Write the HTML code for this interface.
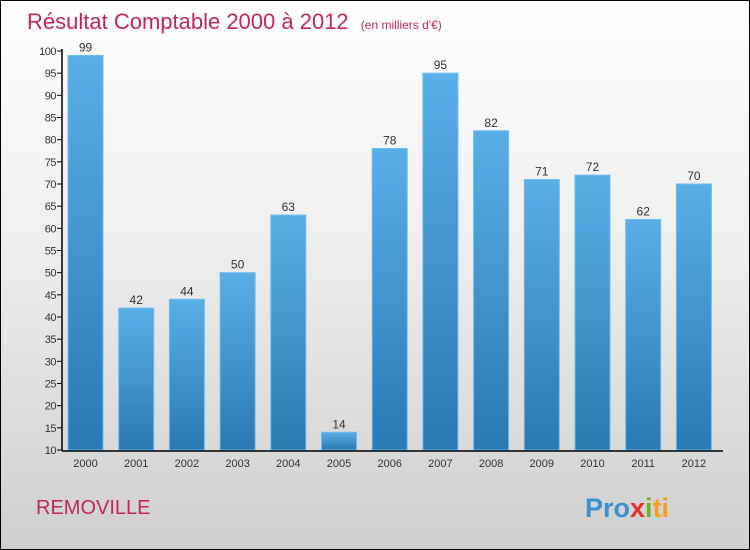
<!DOCTYPE html>
<html><head><meta charset="utf-8"><style>
body{margin:0;}
#wrap{position:relative;width:748px;height:548px;border:1px solid #000;background:linear-gradient(#fefefe,#f0f0f0 40%,#cfcfcf);font-family:"Liberation Sans",sans-serif;overflow:hidden}
</style></head><body>
<div id="wrap">
<svg id="svg" width="748" height="548" style="position:absolute;left:0;top:0">
<defs><linearGradient id="bg" x1="0" y1="0" x2="0" y2="1"><stop offset="0" stop-color="#5aaee8"/><stop offset="1" stop-color="#2a78b4"/></linearGradient></defs>
<text x="26" y="28" font-size="22" fill="#c0285a">Résultat Comptable 2000 à 2012 <tspan font-size="12" dx="6">(en milliers d'€)</tspan></text>
<text x="35" y="513" font-size="20" fill="#c0285a">REMOVILLE</text>
<text x="584" y="516" font-size="27" font-weight="bold" fill="#f08a20"><tspan fill="#3a90d0">Pro</tspan><tspan fill="#e03030">x</tspan><tspan fill="#70b030">i</tspan><tspan fill="#f0a020">ti</tspan></text>
<g id="g"></g>
</svg>
</div>
<script>
const categories=["2000","2001","2002","2003","2004","2005","2006","2007","2008","2009","2010","2011","2012"];
const values=[99,42,44,50,63,14,78,95,82,71,72,62,70];
const ticks=[10,15,20,25,30,35,40,45,50,55,60,65,70,75,80,85,90,95,100];
const NS="http://www.w3.org/2000/svg";
const g=document.getElementById('g');
const y=v=>449-(v-10)*(399/90);
const xc=i=>84.5+i*50.7;
function el(t,a){const e=document.createElementNS(NS,t);for(const k in a)e.setAttribute(k,a[k]);g.appendChild(e);return e;}
ticks.forEach(t=>{
  const l=el('line',{x1:56,x2:61,y1:y(t),y2:y(t),stroke:'#000'});
  
  
  const tx=el('text',{x:55,y:y(t)+4,'font-size':11,'text-anchor':'end',fill:'#333','letter-spacing':'-0.5'});
  tx.textContent=t;
  
  
});
values.forEach((v,i)=>{
  const r=el('rect',{x:xc(i)-17.5,y:y(v),width:35,height:449-y(v),fill:'url(#bg)',stroke:'#6cbcf0','stroke-width':1});
  
  
  const t=el('text',{x:xc(i),y:y(v)-4,'font-size':12,'text-anchor':'middle',fill:'#333'});
  t.textContent=v;
  
  
  const c=el('text',{x:xc(i),y:466,'font-size':11,'text-anchor':'middle',fill:'#333'});
  c.textContent=categories[i];
  
  
});
const ax=el('line',{x1:61,x2:61,y1:48,y2:450,stroke:'#000','stroke-width':1.5});


const bx=el('line',{x1:61,x2:722,y1:450,y2:450,stroke:'#000','stroke-width':1.5});


</script>
</body></html>
